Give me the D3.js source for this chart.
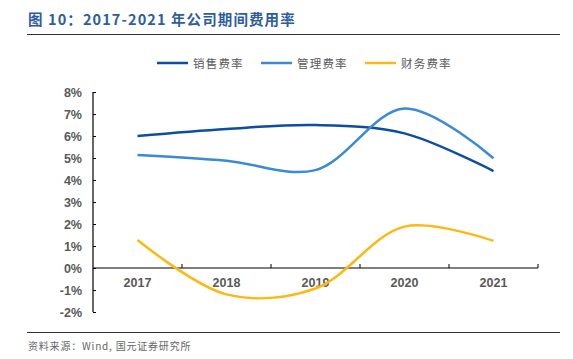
<!DOCTYPE html>
<html><head><meta charset="utf-8">
<script src="https://cdn.jsdelivr.net/npm/d3@7"></script>
<style>body{margin:0;background:#fff;} svg{display:block;}</style>
</head><body>
<svg id="c" width="573" height="359"></svg>
<script>
const categories = ["2017","2018","2019","2020","2021"];
const seriesNames = ["销售费率","管理费率","财务费率"];
const sales = [6.0, 6.32, 6.5, 6.12, 4.4];
const admin = [5.14, 4.88, 4.45, 7.25, 4.99];
const finance = [1.27, -1.2, -0.93, 1.88, 1.23];
const yTicks = [-2,-1,0,1,2,3,4,5,6,7,8];
const colors = ["#0B4EA2","#3A8AD6","#FDB913"];
const series = [sales, admin, finance];

const svg = d3.select("#c");
const font = "'Liberation Sans', Arial, sans-serif";
const cjk = "'Noto Sans CJK SC', sans-serif";

// title
svg.append("text").attr("x",28).attr("y",25).attr("fill","#2E5D9F")
  .attr("font-family",cjk).attr("font-weight","bold").attr("font-size",14.5)
  .attr("letter-spacing",1.1)
  .text("图 10：2017-2021 年公司期间费用率");
svg.append("line").attr("x1",27).attr("x2",560).attr("y1",34.5).attr("y2",34.5)
  .attr("stroke","#333").attr("stroke-width",1.2);

const x = d3.scaleBand().domain(categories).range([93,538]);
const y = d3.scaleLinear().domain([-2,8]).range([312,92]);

// y axis
const yAxis = d3.axisLeft(y).tickValues(yTicks).tickSize(-3).tickPadding(11).tickFormat(d=>d+"%");
const gy = svg.append("g").attr("transform","translate(93,0)").call(yAxis);
gy.select(".domain").attr("stroke","#000").attr("stroke-width",1.2).attr("d","M0,92V312");
gy.selectAll(".tick line").attr("stroke","#000");
gy.selectAll("text").attr("font-family",font).attr("font-weight","bold").attr("font-size",12.5).attr("fill","#595959");

// x axis at 0
const xAxis = d3.axisBottom(x).tickSize(0).tickPadding(10);
const gx = svg.append("g").attr("transform",`translate(0,${y(0)})`).call(xAxis);
gx.select(".domain").attr("stroke","#000").attr("stroke-width",1.2).attr("d","M93,0H538");
gx.selectAll("text").attr("font-family",font).attr("font-weight","bold").attr("font-size",12.5).attr("fill","#595959");
categories.forEach(c=>{
  const xx = x(c)+x.bandwidth();
  svg.append("line").attr("x1",xx).attr("x2",xx).attr("y1",y(0)).attr("y2",y(0)-4).attr("stroke","#000");
});

// lines
const line = d3.line().x((d,i)=>x(categories[i])+x.bandwidth()/2).y(d=>y(d)).curve(d3.curveCatmullRom.alpha(0.5));
series.forEach((s,i)=>{
  svg.append("path").attr("d",line(s)).attr("fill","none").attr("stroke",colors[i]).attr("stroke-width",2.5);
});

// legend
const legX = [157,261,365];
seriesNames.forEach((n,i)=>{
  svg.append("line").attr("x1",legX[i]).attr("x2",legX[i]+31).attr("y1",63).attr("y2",63)
    .attr("stroke",colors[i]).attr("stroke-width",2.5);
  svg.append("text").attr("x",legX[i]+36).attr("y",67.5).attr("font-family",cjk)
    .attr("font-size",11.5).attr("letter-spacing",1.2).attr("fill","#595959").text(n);
});

// footer
svg.append("line").attr("x1",27).attr("x2",560).attr("y1",332.5).attr("y2",332.5)
  .attr("stroke","#333").attr("stroke-width",1);
svg.append("text").attr("x",28).attr("y",350).attr("font-family",cjk)
  .attr("font-size",10).attr("letter-spacing",0.8).attr("fill","#666").text("资料来源：Wind, 国元证券研究所");
</script>
</body></html>
